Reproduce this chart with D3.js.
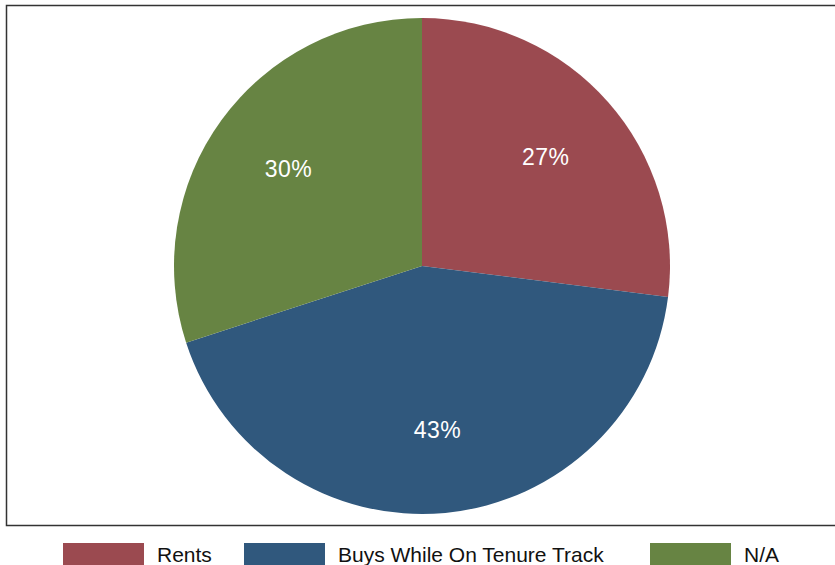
<!DOCTYPE html>
<html>
<head>
<meta charset="utf-8">
<script src="https://cdn.jsdelivr.net/npm/d3@7"></script>
<style>
  html, body { margin: 0; padding: 0; background: #fff; }
  svg { display: block; font-family: "Liberation Sans", Arial, Helvetica, sans-serif; }
</style>
</head>
<body>
<svg id="chart" width="835" height="565"></svg>
<script>
// Housing status shares (percent)
const categories = ["Rents", "Buys While On Tenure Track", "N/A"];
const values = [27, 43, 30];
const colors = ["#9b4a50", "#30587d", "#678443"];

const svg = d3.select("#chart");

// Plot frame
svg.append("rect")
  .attr("x", 6.5).attr("y", 5.5)
  .attr("width", 840).attr("height", 520)
  .attr("fill", "#fff")
  .attr("stroke", "#333").attr("stroke-width", 1.5);

const cx = 422, cy = 266, R = 248;

const pie = d3.pie().sort(null).value(d => d.value);
const data = categories.map((c, i) => ({ name: c, value: values[i], color: colors[i] }));
const arcs = pie(data);

const arc = d3.arc().innerRadius(0).outerRadius(R);
const labelArc = d3.arc().innerRadius(165).outerRadius(165);

const g = svg.append("g").attr("transform", `translate(${cx},${cy})`);

g.selectAll("path.slice")
  .data(arcs)
  .join("path")
  .attr("class", "slice")
  .attr("d", arc)
  .attr("fill", d => d.data.color);

g.selectAll("text.pct")
  .data(arcs)
  .join("text")
  .attr("class", "pct")
  .attr("transform", d => `translate(${labelArc.centroid(d)})`)
  .attr("text-anchor", "middle")
  .attr("dominant-baseline", "central")
  .attr("fill", "#fff")
  .attr("font-size", 23)
  .attr("letter-spacing", 0.5)
  .text(d => d.data.value + "%");

// Legend
const legendX = [63, 244, 650];
const legend = svg.append("g");
data.forEach((d, i) => {
  legend.append("rect")
    .attr("x", legendX[i]).attr("y", 543)
    .attr("width", 81).attr("height", 24)
    .attr("fill", d.color);
  legend.append("text")
    .attr("x", legendX[i] + 94).attr("y", 562)
    .attr("font-size", 21)
    .attr("fill", "#111")
    .text(d.name);
});
</script>
</body>
</html>
